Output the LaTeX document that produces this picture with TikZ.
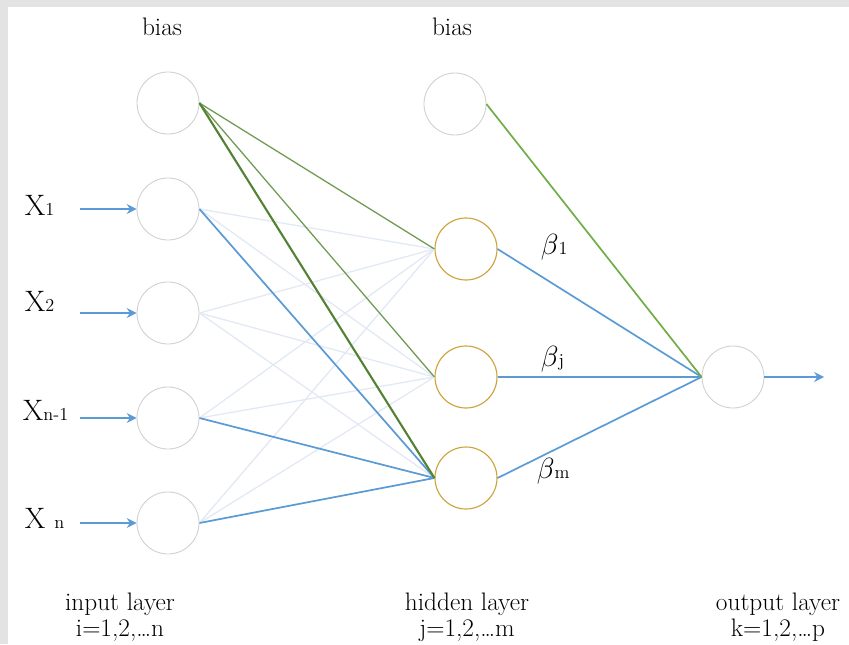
\documentclass[tikz,border=0pt]{standalone}
\usepackage{amsmath}
\usepackage{amssymb}
\usepackage{tikz}
\usetikzlibrary{arrows.meta}

\definecolor{linkblue}{HTML}{5B9BD5}
\definecolor{faintblue}{HTML}{E2E9F4}
\definecolor{biasgreen}{HTML}{70AD47}
\definecolor{darkgreen}{HTML}{548235}
\definecolor{softgreen}{HTML}{6E9A52}
\definecolor{hiddengold}{HTML}{CCA43A}
\definecolor{ringgray}{HTML}{CFCFCF}
\definecolor{framegray}{HTML}{E3E3E3}

% small upright index set on the baseline
\newcommand{\lowidx}[1]{{\fontsize{13}{15}\selectfont #1}}

\begin{document}
\begin{tikzpicture}
		% page with the grey frame strip on the left and top
		\useasboundingbox (0,0) rectangle (21.225,16.1);
		\fill[framegray] (0,0) rectangle (21.225,16.1);
		\fill[white] (0.2,0) rectangle (21.225,15.925);

		\begin{scope}[every node/.style={circle,draw=ringgray,line width=0.6pt,minimum size=1.55cm,inner sep=0pt}]
			\node (B1) at (4.2,13.525) {};
			\node (I1) at (4.2,10.875) {};
			\node (I2) at (4.2,8.275) {};
			\node (I3) at (4.2,5.65) {};
			\node (I4) at (4.2,3.025) {};
			\node (B2) at (11.375,13.5) {};
			\node (O) at (18.325,6.675) {};
		\end{scope}
		\begin{scope}[every node/.style={circle,draw=hiddengold,line width=0.8pt,minimum size=1.55cm,inner sep=0pt}]
			\node (H1) at (11.65,9.875) {};
			\node (H2) at (11.65,6.675) {};
			\node (H3) at (11.65,4.15) {};
		\end{scope}

		% text labels
		\begin{scope}[every node/.style={font=\fontsize{18}{20}\selectfont,align=center}]
			\node (biasA) at (4.05,15.425) {bias};
			\node (biasB) at (11.3,15.425) {bias};
			\node[font=\fontsize{18}{18.5}\selectfont] (inlab) at (3.0,0.68) {input layer\\i=1,2,\dots n};
			\node[font=\fontsize{18}{18.5}\selectfont] (hidlab) at (11.675,0.68) {hidden layer\\j=1,2,\dots m};
			\node[font=\fontsize{18}{18.5}\selectfont] (outlab) at (19.45,0.68) {output layer\\k=1,2,\dots p};
		\end{scope}
		\begin{scope}[every node/.style={font=\fontsize{21}{24}\selectfont,anchor=base west}]
			\node (X1) at (0.5,10.7) {X\lowidx{1}};
			\node (X2) at (0.5,8.3) {X\lowidx{2}};
			\node (X3) at (0.45,5.6) {X\lowidx{n-1}};
			\node (X4) at (0.5,2.9) {X \lowidx{n}};
		\end{scope}
		\begin{scope}[every node/.style={font=\fontsize{20}{22}\selectfont,anchor=base west}]
			\node (b1) at (13.4,9.75) {$\beta$\lowidx{1}};
			\node (bj) at (13.4,6.95) {$\beta$\lowidx{j}};
			\node (bm) at (13.3,4.15) {$\beta$\lowidx{m}};
		\end{scope}

		% input and output arrows
		\begin{scope}[>={Stealth[length=7pt,width=7pt]},line width=1.2pt]
			\coordinate (s1) at (2.0,10.875);
			\coordinate (s2) at (2.0,8.275);
			\coordinate (s3) at (2.0,5.65);
			\coordinate (s4) at (2.0,3.025);
			\coordinate (t) at (20.6,6.675);
			\draw[->,linkblue] (s1) -- (I1);
			\draw[->,linkblue] (s2) -- (I2);
			\draw[->,linkblue] (s3) -- (I3);
			\draw[->,linkblue] (s4) -- (I4);
			\draw[->,linkblue] (O) -- (t);
		\end{scope}

		% weights
		\begin{scope}[every edge/.style={draw=faintblue,line width=0.9pt}]
			\foreach \i in {I1,I2,I3,I4}
				\foreach \h in {H1,H2,H3}
					\path (\i.east) edge (\h.west);
		\end{scope}
		\begin{scope}[every edge/.style={draw=linkblue,line width=1.2pt}]
			\path (I1.east) edge (H3.west);
			\path (I3.east) edge (H3.west);
			\path (I4.east) edge (H3.west);
			\path (H1.east) edge (O.west);
			\path (H2.east) edge (O.west);
			\path (H3.east) edge (O.west);
		\end{scope}
		\begin{scope}[every edge/.style={draw=softgreen,line width=0.9pt}]
			\path (B1.east) edge (H1.west);
			\path (B1.east) edge (H2.west);
			\path (B1.east) edge[draw=darkgreen,line width=1.5pt] (H3.west);
			\path (B2.east) edge[draw=biasgreen,line width=1.2pt] (O.west);
		\end{scope}
	\end{tikzpicture}
\end{document}
